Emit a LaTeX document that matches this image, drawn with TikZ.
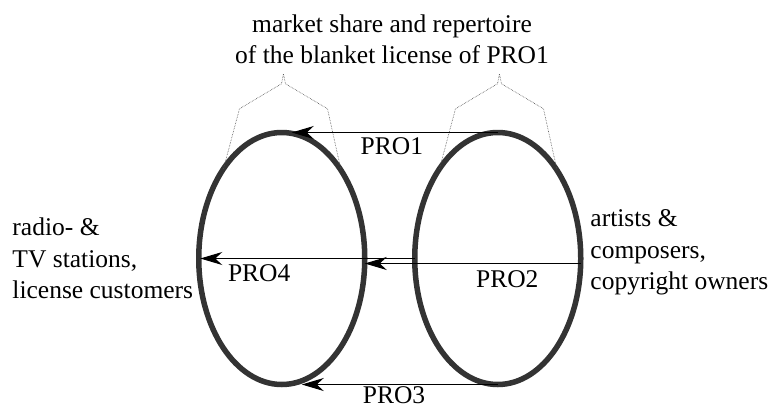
\documentclass[tikz,border=0pt]{standalone}
\usepackage{fontspec}
\setmainfont{Liberation Serif}
\usetikzlibrary{
	positioning,
	arrows.meta,
	calc,
	shapes.geometric
}

\begin{document}
\begin{tikzpicture}[x=1pt,y=-1pt,node distance=5pt,
	every node/.style={font=\fontsize{25.5}{31.5}\selectfont},
	market/.style={draw=black!80,ellipse,line width=5.5pt,minimum width=166pt,minimum height=252pt,inner sep=0pt,outer sep=0pt},
	party/.style={align=left,inner sep=0pt},
	tag/.style={inner sep=0pt},
	flow/.style={line width=1.1pt,-{Stealth[length=22pt,width=13pt,inset=7pt]}},
	bracket/.style={densely dotted,line width=0.6pt,black!70}]
	\useasboundingbox (0,0) rectangle (770,407);

	\node[market] (tv) at (281.75,258.5) {};
	\node[market,right = 50pt of tv] (pro) {};
	\node[party,left = 5.5pt of tv] (customers) {radio- \&\\TV stations,\\license customers};
	\node[party,right = 9.5pt of pro,yshift=6pt] (owners) {artists \&\\composers,\\copyright owners};
	\node[align=center,inner sep=0pt,anchor=north] (share) at (392,14.3) {market share and repertoire\\of the blanket license of PRO1};

	\draw[bracket] (tv.123.5) -- ++(16,-60) -- ++(42,-25) -- ++(2,-10) -- ++(2,10) -- ++(42,25) -- (tv.56.5);
	\draw[bracket] (pro.123.5) -- ++(16,-60) -- ++(42,-25) -- ++(2,-10) -- ++(2,10) -- ++(42,25) -- (pro.56.5);

	\draw[flow,shorten >=10pt] (pro.north) -- node[tag,below=5pt,pos=0.49]{PRO1} (tv.north);
	\draw[flow,shorten >=1.5pt] (pro.west) -- node[tag,below=6pt,pos=0.72]{PRO4} (tv.west);
	\draw[flow] ([yshift=-5pt]pro.east) -- node[tag,below=6.5pt,pos=0.34]{PRO2} ([yshift=-5pt]tv.east);
	\draw[flow,shorten >=20pt] (pro.south) -- node[tag,below=2pt,pos=0.48]{PRO3} (tv.south);

\end{tikzpicture}
\end{document}
